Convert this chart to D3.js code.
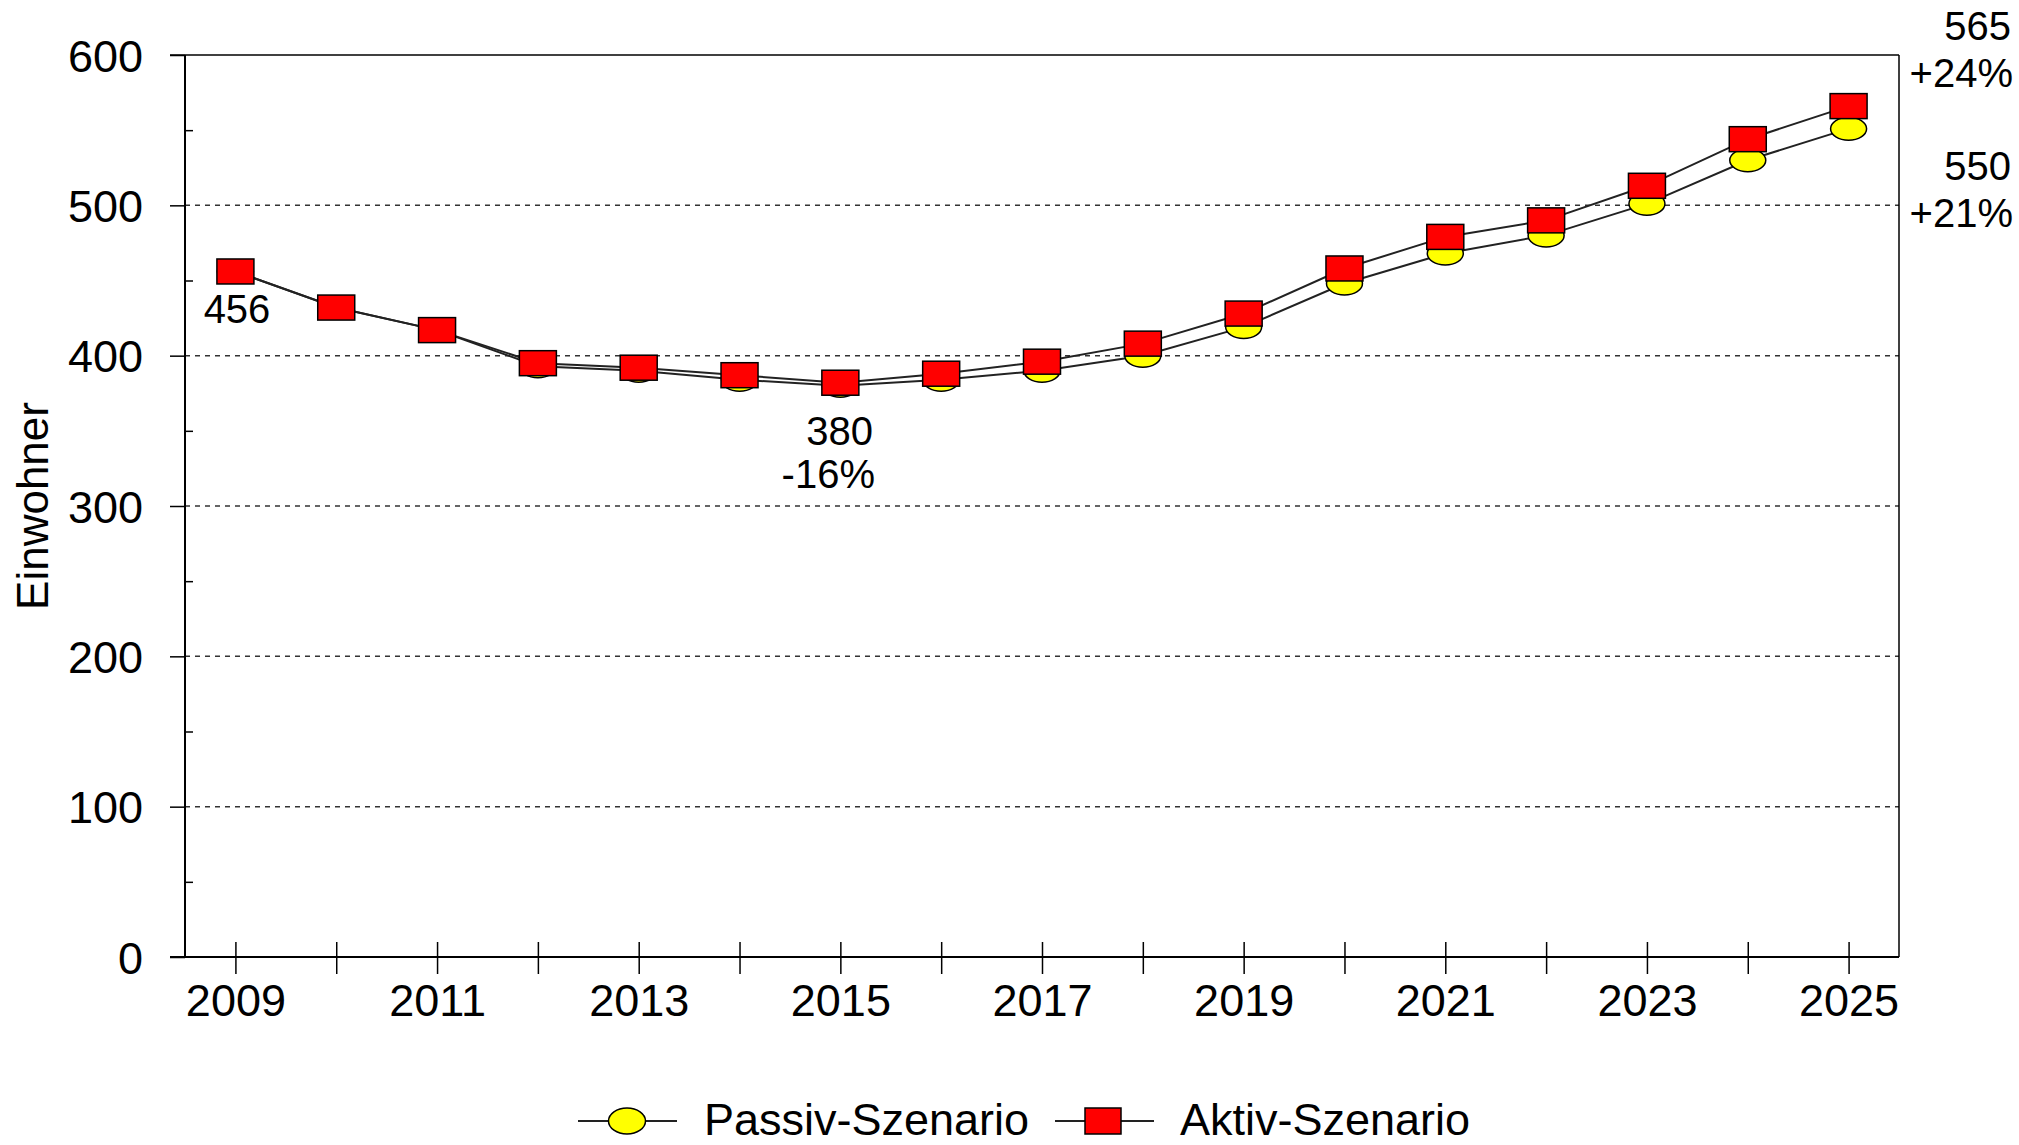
<!DOCTYPE html>
<html>
<head>
<meta charset="utf-8">
<script src="https://cdn.jsdelivr.net/npm/d3@7"></script>
<style>
  body { margin: 0; background: #fff; }
  text { font-family: "Liberation Sans", Arial, sans-serif; fill: #000; }
</style>
</head>
<body>
<div id="chart"></div>
<script>
// data
var years = [2009, 2010, 2011, 2012, 2013, 2014, 2015, 2016, 2017, 2018, 2019, 2020, 2021, 2022, 2023, 2024, 2025]
var passiv = [456, 432, 417, 393, 390, 384, 380, 384, 390, 400, 419, 448, 468, 480, 501, 530, 551]
var aktiv  = [456, 432, 417, 395, 392, 387, 382, 388, 396, 408, 428, 458, 479, 490, 513, 544, 566]
var yMajor = [0, 100, 200, 300, 400, 500, 600]
var yMinor = [50, 150, 250, 350, 450, 550]
var grid = [100, 200, 300, 400, 500]
var seriesNames = ["Passiv-Szenario", "Aktiv-Szenario"]

var W = 2019, H = 1145
// plot box (note: "top" is reserved on window, so use p* names)
var pLeft = 185, pRight = 1899, pTop = 55, pBottom = 957

var svg = d3.select("#chart")
    .append("svg")
    .attr("width", W)
    .attr("height", H)

var x = d3.scaleLinear()
    .domain([2008.5, 2025.5])
    .range([pLeft, pRight])
var y = d3.scaleLinear()
    .domain([0, 600])
    .range([pBottom, pTop])

// dashed grid lines
svg.selectAll(".grid")
    .data(grid)
    .enter()
    .append("line")
    .attr("x1", pLeft).attr("x2", pRight)
    .attr("y1", function(d){ return y(d) })
    .attr("y2", function(d){ return y(d) })
    .attr("stroke", "#333")
    .attr("stroke-width", 1.5)
    .attr("stroke-dasharray", "5,5")

// frame: top and right
svg.append("line")
    .attr("x1", pLeft - 15).attr("x2", pRight)
    .attr("y1", pTop).attr("y2", pTop)
    .attr("stroke", "#000").attr("stroke-width", 1.5)
svg.append("line")
    .attr("x1", pRight).attr("x2", pRight)
    .attr("y1", pTop).attr("y2", pBottom)
    .attr("stroke", "#000").attr("stroke-width", 1.5)

// Y axis, major ticks outside
var yAxis = svg.append("g")
    .attr("transform", "translate(" + pLeft + ",0)")
    .call(d3.axisLeft(y).tickValues(yMajor).tickSize(15).tickPadding(27))
yAxis.select(".domain").remove()
yAxis.selectAll("text")
    .style("font-size", "45px")
    .attr("dy", "0.36em")
    .attr("fill", "#000")
yAxis.selectAll(".tick line").attr("stroke", "#000").attr("stroke-width", 1.5)

// minor ticks crossing the axis
var yMin = svg.append("g")
    .attr("transform", "translate(" + pLeft + ",0)")
    .call(d3.axisLeft(y).tickValues(yMinor).tickSize(7).tickFormat(""))
yMin.select(".domain").remove()
yMin.selectAll(".tick line").attr("x2", 8).attr("stroke", "#000").attr("stroke-width", 1.5)

svg.append("line")
    .attr("x1", pLeft).attr("x2", pLeft)
    .attr("y1", pTop).attr("y2", pBottom)
    .attr("stroke", "#000").attr("stroke-width", 2)

// X axis
var xAxis = svg.append("g")
    .attr("transform", "translate(0," + pBottom + ")")
    .call(d3.axisBottom(x)
        .tickValues(years)
        .tickSize(17)
        .tickPadding(10)
        .tickFormat(function(d){ return d % 2 == 1 ? d : "" }))
xAxis.select(".domain").remove()
xAxis.selectAll(".tick line").attr("y1", -15).attr("stroke", "#000").attr("stroke-width", 1.5)
xAxis.selectAll("text")
    .style("font-size", "45px")
    .attr("fill", "#000")

svg.append("line")
    .attr("x1", pLeft - 15).attr("x2", pRight)
    .attr("y1", pBottom).attr("y2", pBottom)
    .attr("stroke", "#000").attr("stroke-width", 2)

// Y axis title
svg.append("text")
    .attr("transform", "translate(48," + ((pTop + pBottom) / 2) + ") rotate(-90)")
    .attr("text-anchor", "middle")
    .style("font-size", "44px")
    .text("Einwohner")

// lines
var line = d3.line()
    .x(function(d, i){ return x(years[i]) })
    .y(function(d){ return y(d) })

svg.append("path")
    .datum(passiv)
    .attr("fill", "none")
    .attr("stroke", "#222")
    .attr("stroke-width", 2)
    .attr("d", line)
svg.append("path")
    .datum(aktiv)
    .attr("fill", "none")
    .attr("stroke", "#222")
    .attr("stroke-width", 2)
    .attr("d", line)

// markers
svg.selectAll(".passivDot")
    .data(passiv)
    .enter()
    .append("ellipse")
    .attr("cx", function(d, i){ return x(years[i]) })
    .attr("cy", function(d){ return y(d) })
    .attr("rx", 18)
    .attr("ry", 11.5)
    .attr("fill", "#ffff00")
    .attr("stroke", "#000")
    .attr("stroke-width", 1.5)

svg.selectAll(".aktivDot")
    .data(aktiv)
    .enter()
    .append("rect")
    .attr("x", function(d, i){ return x(years[i]) - 18.5 })
    .attr("y", function(d){ return y(d) - 12.5 })
    .attr("width", 37)
    .attr("height", 25)
    .attr("fill", "#ff0000")
    .attr("stroke", "#000")
    .attr("stroke-width", 1.5)

// value annotations
var notes = [
    {t: "456", x: 237, y: 323, a: "middle"},
    {t: "380", x: 873, y: 445, a: "end"},
    {t: "-16%", x: 875, y: 488, a: "end"},
    {t: "565", x: 2011, y: 40, a: "end"},
    {t: "+24%", x: 2013, y: 87, a: "end"},
    {t: "550", x: 2011, y: 180, a: "end"},
    {t: "+21%", x: 2013, y: 227, a: "end"}
]
svg.selectAll(".note")
    .data(notes)
    .enter()
    .append("text")
    .attr("x", function(d){ return d.x })
    .attr("y", function(d){ return d.y })
    .attr("text-anchor", function(d){ return d.a })
    .style("font-size", "40px")
    .text(function(d){ return d.t })

// legend
var legY = 1121
svg.append("line")
    .attr("x1", 578).attr("x2", 677)
    .attr("y1", legY).attr("y2", legY)
    .attr("stroke", "#222").attr("stroke-width", 2)
svg.append("ellipse")
    .attr("cx", 627).attr("cy", legY)
    .attr("rx", 18.5).attr("ry", 13)
    .attr("fill", "#ffff00").attr("stroke", "#000").attr("stroke-width", 1.5)
svg.append("text")
    .attr("x", 704).attr("y", 1135)
    .style("font-size", "45px")
    .text(seriesNames[0])

svg.append("line")
    .attr("x1", 1055).attr("x2", 1154)
    .attr("y1", legY).attr("y2", legY)
    .attr("stroke", "#222").attr("stroke-width", 2)
svg.append("rect")
    .attr("x", 1085).attr("y", 1108)
    .attr("width", 36).attr("height", 26)
    .attr("fill", "#ff0000").attr("stroke", "#000").attr("stroke-width", 1.5)
svg.append("text")
    .attr("x", 1180).attr("y", 1135)
    .style("font-size", "45px")
    .text(seriesNames[1])
</script>
</body>
</html>
